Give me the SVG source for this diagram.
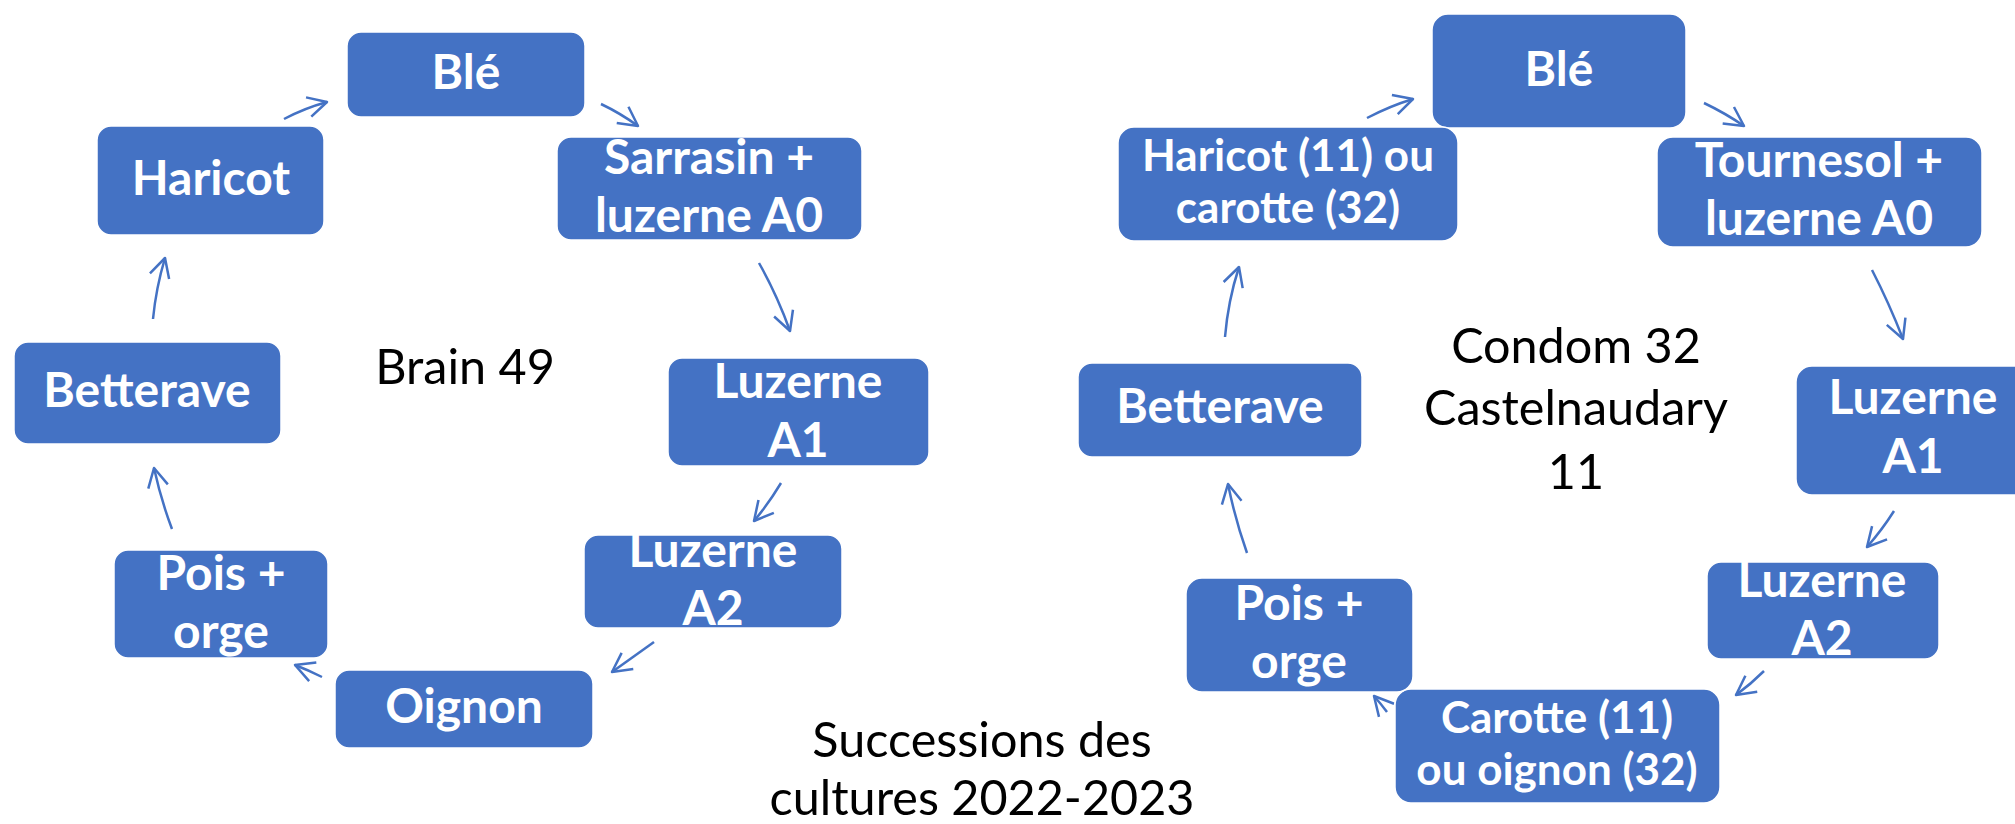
<svg xmlns="http://www.w3.org/2000/svg" width="2015" height="824" viewBox="0 0 2015 824">
<style>
.box{fill:#4472C4;stroke:#ffffff;stroke-width:1.5}
.lbl{font-family:Lato,"Open Sans","Liberation Sans",sans-serif;font-weight:bold;fill:#ffffff;text-anchor:middle;font-size:48px}
.sm{font-size:44px}
.cap{font-family:Lato,"Open Sans","Liberation Sans",sans-serif;fill:#000000;text-anchor:middle;font-size:48.5px}
.arr{fill:none;stroke:#4472C4;stroke-width:2.5;marker-end:url(#ah)}
</style>
<defs>
<marker id="ah" markerUnits="userSpaceOnUse" markerWidth="40" markerHeight="40" refX="0" refY="0" viewBox="-25 -20 30 40" orient="auto" overflow="visible">
<path d="M-19,-10 L0,0 L-19,10" fill="none" stroke="#4472C4" stroke-width="2.5" stroke-linejoin="round"/>
</marker>
</defs>
<rect width="2015" height="824" fill="#ffffff"/>

<g id="connectors">
<path class="arr" d="M284,119 Q305,108 327,102"/>
<path class="arr" d="M601,104 Q620,113 638,126"/>
<path class="arr" d="M759,263 Q777,295 790,331"/>
<path class="arr" d="M781,483 Q769,503 754,521"/>
<path class="arr" d="M654,642 Q633,657 612,672"/>
<path class="arr" d="M322,677 Q308,670 295,665"/>
<path class="arr" d="M172,529 Q161,500 154,468"/>
<path class="arr" d="M153,319 Q156,288 165,258"/>

<path class="arr" d="M1367,118 Q1390,106 1413,99"/>
<path class="arr" d="M1704,103 Q1725,113 1744,126"/>
<path class="arr" d="M1872,270 Q1889,303 1903,339"/>
<path class="arr" d="M1894,511 Q1882,530 1867,547"/>
<path class="arr" d="M1764,671 Q1751,684 1736,695"/>
<path class="arr" d="M1387,712 Q1381,704 1374,696"/>
<path class="arr" d="M1247,553 Q1235,519 1228,484"/>
<path class="arr" d="M1225,337 Q1228,301 1239,267"/>
</g>

<g id="n-ble1"><rect class="box" x="347" y="32" width="238" height="85" rx="14"/><text class="lbl" x="466" y="89">Blé</text></g>
<g id="n-haricot1"><rect class="box" x="97" y="126" width="227" height="109" rx="14"/><text class="lbl" x="211" y="195">Haricot</text></g>
<g id="n-sarrasin1"><rect class="box" x="557" y="137" width="305" height="103" rx="14"/><text class="lbl" x="709" y="174">Sarrasin +</text><text class="lbl" x="709" y="232">luzerne A0</text></g>
<g id="n-luza1-1"><rect class="box" x="668" y="358" width="261" height="108" rx="14"/><text class="lbl" x="798" y="398">Luzerne</text><text class="lbl" x="798" y="457">A1</text></g>
<g id="n-luza2-1"><rect class="box" x="584" y="535" width="258" height="93" rx="14"/><text class="lbl" x="713" y="567">Luzerne</text><text class="lbl" x="713" y="625">A2</text></g>
<g id="n-oignon1"><rect class="box" x="335" y="670" width="258" height="78" rx="14"/><text class="lbl" x="464" y="723">Oignon</text></g>
<g id="n-pois1"><rect class="box" x="114" y="550" width="214" height="108" rx="14"/><text class="lbl" x="221" y="590">Pois +</text><text class="lbl" x="221" y="648">orge</text></g>
<g id="n-bett1"><rect class="box" x="14" y="342" width="267" height="102" rx="14"/><text class="lbl" x="147" y="407">Betterave</text></g>

<g id="n-ble2"><rect class="box" x="1432" y="14" width="254" height="114" rx="16"/><text class="lbl" x="1559" y="86">Blé</text></g>
<g id="n-haricot2"><rect class="box" x="1118" y="127" width="340" height="114" rx="16"/><text class="lbl sm" x="1288" y="171">Haricot (11) ou</text><text class="lbl sm" x="1288" y="223">carotte (32)</text></g>
<g id="n-tournesol2"><rect class="box" x="1657" y="137" width="325" height="110" rx="16"/><text class="lbl" x="1819" y="177">Tournesol +</text><text class="lbl" x="1819" y="235">luzerne A0</text></g>
<g id="n-luza1-2"><rect class="box" x="1796" y="366" width="240" height="129" rx="16"/><text class="lbl" x="1913" y="414">Luzerne</text><text class="lbl" x="1913" y="473">A1</text></g>
<g id="n-luza2-2"><rect class="box" x="1707" y="562" width="232" height="97" rx="14"/><text class="lbl" x="1822" y="597">Luzerne</text><text class="lbl" x="1822" y="655">A2</text></g>
<g id="n-carotte2"><rect class="box" x="1395" y="689" width="325" height="114" rx="16"/><text class="lbl sm" x="1557" y="733">Carotte (11)</text><text class="lbl sm" x="1557" y="785">ou oignon (32)</text></g>
<g id="n-pois2"><rect class="box" x="1186" y="578" width="227" height="114" rx="16"/><text class="lbl" x="1299" y="620">Pois +</text><text class="lbl" x="1299" y="678">orge</text></g>
<g id="n-bett2"><rect class="box" x="1078" y="363" width="284" height="94" rx="14"/><text class="lbl" x="1220" y="423">Betterave</text></g>

<g id="labels">
<text class="cap" x="465" y="384">Brain 49</text>
<text class="cap" x="1576" y="363">Condom 32</text>
<text class="cap" x="1576" y="425">Castelnaudary</text>
<text class="cap" x="1576" y="489">11</text>
<text class="cap" x="982" y="757">Successions des</text>
<text class="cap" x="982" y="815">cultures 2022-2023</text>
</g>
</svg>
